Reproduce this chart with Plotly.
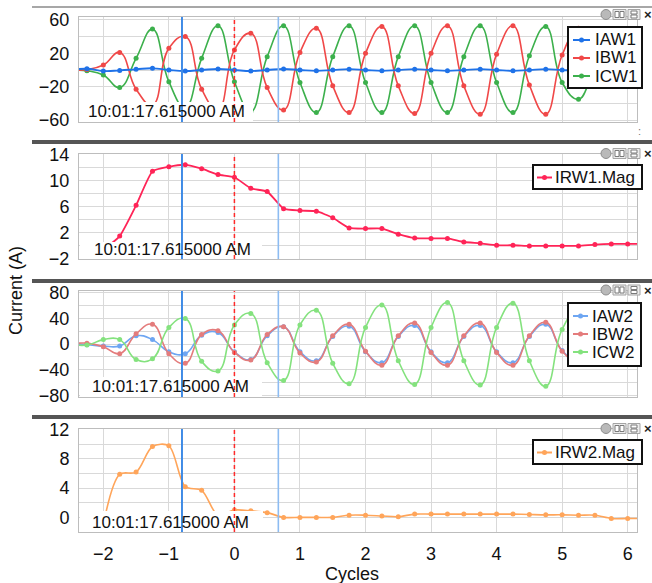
import plotly.graph_objects as go

# ---------------------------------------------------------------- data
# sample instants, in cycles relative to the trigger
CYC = [-2.5, -2.25, -2.0, -1.75, -1.5, -1.25, -1.0, -0.75, -0.5, -0.25,
       0.0, 0.25, 0.5, 0.75, 1.0, 1.25, 1.5, 1.75, 2.0, 2.25,
       2.5, 2.75, 3.0, 3.25, 3.5, 3.75, 4.0, 4.25, 4.5, 4.75,
       5.0, 5.25, 5.5, 5.75, 6.0]

# winding 1 phase currents (A)
IAW1 = [0, 1.5, -1.2, -0.5, 0.8, 2.0, 0, -1.2, 0, 1.2,
        0, -1.2, 0, 1.2, 0, -1.0, 0, 1.0, 0, -1.0,
        0, 1.0, 0, -1.0, 0, 1.0, 0, -1.0, 0, 1.0,
        0, -0.8, 0, 0, 0]
IBW1 = [0, 0.5, 6, 21, -23, -42, 26, 40, -23, -48,
        24, 44, -21, -48, 21, 50, -19, -51, 20, 52,
        -19, -52, 20, 53, -19, -53, 19, 53, -18, -53,
        18, 50, 4, 0, 0]
ICW1 = [0, -1, -6, -21, 14, 49, -14, -45, 14, 53,
        -14, -50, 16, 53, -15, -51, 16, 53, -15, -51,
        16, 53, -15, -51, 16, 53, -15, -51, 17, 52,
        -15, -35, -5, 0, 0]

# winding 2 phase currents (A)
IAW2 = [0, -1, -3, -3, 13, 7, -12, -15, 14, 18,
        -12, -24, 13, 27, -12, -26, 12, 28, -12, -29,
        12, 29, -12, -29, 12, 29, -12, -29, 12, 31,
        -10, -26, 0, 0, 0]
IBW2 = [0, 1.5, -4, -15, 16, 31, -15, -30, 15, 21,
        -13, -25, 15, 27, -14, -28, 13, 31, -11, -33,
        13, 33, -13, -33, 13, 33, -13, -33, 13, 34,
        -11, -28, 0, 0, 0]
ICW2 = [0, -1.5, 7, 7, -24, -23, 26, 40, -27, -42,
        30, 48, -29, -57, 30, 53, -30, -62, 26, 61,
        -26, -63, 26, 65, -26, -64, 26, 64, -26, -66,
        23, 55, 0, 0, 0]

# residual magnitudes
MAG_CYC = [-2.0, -1.75, -1.5, -1.25, -1.0, -0.75, -0.5, -0.25,
           0.0, 0.25, 0.5, 0.75, 1.0, 1.25, 1.5, 1.75, 2.0, 2.25,
           2.5, 2.75, 3.0, 3.25, 3.5, 3.75, 4.0, 4.25, 4.5, 4.75,
           5.0, 5.25, 5.5, 5.75, 6.0, 6.25]
IRW1_MAG = [-0.6, 1.5, 6.2, 11.4, 12.1, 12.4, 11.8, 10.9,
            10.5, 8.8, 8.3, 5.7, 5.4, 5.3, 4.3, 2.75, 2.65, 2.65,
            1.8, 1.2, 1.15, 1.15, 0.6, 0.4, 0.1, 0.1, 0.0, 0.0,
            0.0, 0.0, 0.2, 0.3, 0.3, 0.3]
IRW2_MAG = [-1.0, 5.9, 6.2, 9.7, 9.8, 4.2, 3.7, 0.3,
            1.0, 0.9, 0.65, 0.0, 0.0, 0.0, 0.0, 0.3, 0.3, 0.2,
            0.1, 0.45, 0.45, 0.45, 0.45, 0.45, 0.45, 0.45, 0.4, 0.35,
            0.35, 0.3, 0.3, -0.15, -0.15, -0.15]

# cursors (cycles)
CURSOR_A = -0.8
TRIGGER = 0.0
CURSOR_B = 0.67
TIMESTAMP = "10:01:17.615000 AM"

X_TICKS = [-2, -1, 0, 1, 2, 3, 4, 5, 6]

# ---------------------------------------------------------------- style
W, H = 652, 583
FONT = "Liberation Sans, Arial, sans-serif"
GRID = "#d9d9d9"
FRAME = "#bdbdbd"
COL = {
    "IAW1": "#1f72e8", "IBW1": "#f04848", "ICW1": "#3cb04c",
    "IRW1.Mag": "#ff2457",
    "IAW2": "#6ea6f2", "IBW2": "#e47c7c", "ICW2": "#84e27e",
    "IRW2.Mag": "#ffa55a",
}


def px(x):
    return x / W


def py(y):
    return 1 - y / H


# plot rectangles in pixels: (top, bottom)
PANELS = [(17, 122), (154, 259), (291, 397), (429, 532)]
XL, XR = 79, 637

fig = go.Figure()


def add_series(name, xs, ys, axis, width=1.6, msize=5, smooth=1.3):
    fig.add_trace(go.Scatter(
        x=xs, y=ys, name=name, mode="lines+markers",
        line=dict(color=COL[name], width=width, shape="spline", smoothing=smooth),
        marker=dict(color=COL[name], size=msize),
        xaxis="x" if axis == 1 else f"x{axis}",
        yaxis="y" if axis == 1 else f"y{axis}",
        showlegend=False, hoverinfo="x+y+name",
    ))


add_series("ICW1", CYC, ICW1, 1)
add_series("IBW1", CYC, IBW1, 1)
add_series("IAW1", CYC, IAW1, 1, width=1.9)
add_series("IRW1.Mag", MAG_CYC, IRW1_MAG, 2, width=1.8, msize=5, smooth=0.5)
add_series("IAW2", CYC, IAW2, 3)
add_series("IBW2", CYC, IBW2, 3)
add_series("ICW2", CYC, ICW2, 3)
add_series("IRW2.Mag", MAG_CYC, IRW2_MAG, 4, width=1.6, msize=5, smooth=0.9)

# ---------------------------------------------------------------- axes
Y_SPECS = [
    dict(range=[-62.3, 63.5], tick0=20, dtick=40, minor=20),
    dict(range=[-2.0, 14.05], tick0=2, dtick=4, minor=2),
    dict(range=[-82.7, 83.0], tick0=0, dtick=40, minor=20),
    dict(range=[-2.0, 12.1], tick0=0, dtick=4, minor=2),
]

layout = dict(
    width=W, height=H, margin=dict(l=0, r=0, t=0, b=0, autoexpand=False),
    paper_bgcolor="white", plot_bgcolor="white",
    font=dict(family=FONT, color="#111111", size=18),
    showlegend=False,
)

for i, ((top, bot), spec) in enumerate(zip(PANELS, Y_SPECS), start=1):
    sfx = "" if i == 1 else str(i)
    layout[f"xaxis{sfx}"] = dict(
        domain=[px(XL), px(XR)], range=[-2.371, 6.142],
        tickmode="array", tickvals=X_TICKS,
        showgrid=True, gridcolor=GRID, gridwidth=1,
        showline=True, mirror=True, linecolor=FRAME, linewidth=1,
        zeroline=False, ticks="", anchor=f"y{sfx}", automargin=False,
        showticklabels=(i == 4), tickfont=dict(size=18, color="#111111"),
        ticklabelstandoff=5,
        **({} if i == 1 else dict(matches="x")),
    )
    layout[f"yaxis{sfx}"] = dict(
        domain=[py(bot), py(top)], range=spec["range"],
        tick0=spec["tick0"], dtick=spec["dtick"],
        minor=dict(dtick=spec["minor"], showgrid=True, gridcolor=GRID),
        showgrid=True, gridcolor=GRID,
        showline=True, mirror=True, linecolor=FRAME, linewidth=1,
        zeroline=False, ticks="", anchor=f"x{sfx}", automargin=False,
        tickfont=dict(size=18, color="#111111"),
        ticklabelstandoff=5,
    )

shapes = []
annotations = []

# panel frames: thin rule above the first pane, heavy dividers between panes
shapes.append(dict(type="line", xref="paper", yref="paper",
                   x0=px(32), x1=1, y0=py(7), y1=py(7),
                   line=dict(color="#8a8a8a", width=1.5), layer="above"))
for ysep in (142, 281, 417):
    shapes.append(dict(type="line", xref="paper", yref="paper",
                       x0=px(32), x1=1, y0=py(ysep), y1=py(ysep),
                       line=dict(color="#555555", width=4), layer="above"))

# timestamp boxes (white) under the cursors
TS_BOX = [(79, 253, 102, 122, 166.5, 111.5),
          (80, 262, 242, 259, 172.5, 249.0),
          (80, 262, 377, 397, 170.5, 386.0),
          (80, 263, 511, 532, 170.5, 522.0)]
for (x0, x1, y0, y1, tx, ty) in TS_BOX:
    shapes.append(dict(type="rect", xref="paper", yref="paper",
                       x0=px(x0), x1=px(x1), y0=py(y1), y1=py(y0),
                       fillcolor="white", line=dict(width=0), layer="above"))
    annotations.append(dict(text=TIMESTAMP, xref="paper", yref="paper",
                            x=px(tx), y=py(ty), xanchor="center", yanchor="middle",
                            showarrow=False, font=dict(size=17, color="#111111")))

# cursor lines through every pane
for i in range(1, 5):
    sfx = "" if i == 1 else str(i)
    yref = f"y{sfx} domain"
    xref = f"x{sfx}"
    shapes.append(dict(type="line", xref=xref, yref=yref, x0=CURSOR_A, x1=CURSOR_A,
                       y0=0, y1=1, line=dict(color="#3f8be6", width=2), layer="above"))
    shapes.append(dict(type="line", xref=xref, yref=yref, x0=CURSOR_B, x1=CURSOR_B,
                       y0=0, y1=1, line=dict(color="#8dbcf2", width=1.6), layer="above"))
    shapes.append(dict(type="line", xref=xref, yref=yref, x0=TRIGGER, x1=TRIGGER,
                       y0=0, y1=1, line=dict(color="#ff2a2a", width=1.5, dash="4px,3px"),
                       layer="above"))

# legend boxes
LEGENDS = [
    dict(box=(568, 642, 27, 88), names=["IAW1", "IBW1", "ICW1"], rows=[40, 58, 76],
         sym=(573, 590), tx=593),
    dict(box=(533, 642, 165, 189), names=["IRW1.Mag"], rows=[177.5], sym=(537, 552), tx=553),
    dict(box=(568, 641, 303, 366), names=["IAW2", "IBW2", "ICW2"], rows=[316, 334, 352],
         sym=(573, 588), tx=590),
    dict(box=(533, 642, 440, 464), names=["IRW2.Mag"], rows=[452.5], sym=(537, 552), tx=553),
]
for lg in LEGENDS:
    x0, x1, y0, y1 = lg["box"]
    shapes.append(dict(type="rect", xref="paper", yref="paper",
                       x0=px(x0), x1=px(x1), y0=py(y1), y1=py(y0),
                       fillcolor="white", line=dict(color="#111111", width=2), layer="above"))
    s0, s1 = lg["sym"]
    for name, ry in zip(lg["names"], lg["rows"]):
        c = COL[name]
        shapes.append(dict(type="line", xref="paper", yref="paper",
                           x0=px(s0), x1=px(s1), y0=py(ry), y1=py(ry),
                           line=dict(color=c, width=2), layer="above"))
        cx = (s0 + s1) / 2
        shapes.append(dict(type="circle", xref="paper", yref="paper",
                           x0=px(cx - 2.5), x1=px(cx + 2.5), y0=py(ry + 2.5), y1=py(ry - 2.5),
                           fillcolor=c, line=dict(color=c, width=0), layer="above"))
        annotations.append(dict(text=name, xref="paper", yref="paper",
                                x=px(lg["tx"]), y=py(ry), xanchor="left", yanchor="middle",
                                showarrow=False, font=dict(size=17, color="#111111")))

# small pane toolbar (globe, side-by-side, stacked, close)
for cy in (14.5, 153.5, 290.0, 428.5):
    t, b = cy - 5, cy + 5
    shapes.append(dict(type="circle", xref="paper", yref="paper",
                       x0=px(601), x1=px(611), y0=py(b), y1=py(t),
                       fillcolor="#b9b9b9", line=dict(color="#8c8c8c", width=1), layer="above"))
    for (a, z) in ((613, 626), (628, 640)):
        shapes.append(dict(type="rect", xref="paper", yref="paper",
                           x0=px(a), x1=px(z), y0=py(b), y1=py(t),
                           fillcolor="#ececec", line=dict(color="#a4a4a4", width=1), layer="above"))
    for (a, z) in ((615, 619), (620, 624)):
        shapes.append(dict(type="rect", xref="paper", yref="paper",
                           x0=px(a), x1=px(z), y0=py(b - 2), y1=py(t + 2),
                           fillcolor="#ffffff", line=dict(color="#7a7a7a", width=1), layer="above"))
    for (a, z) in ((t + 1.5, cy - 0.5), (cy + 0.5, b - 1.5)):
        shapes.append(dict(type="rect", xref="paper", yref="paper",
                           x0=px(631), x1=px(637), y0=py(z), y1=py(a),
                           fillcolor="#ffffff", line=dict(color="#7a7a7a", width=1), layer="above"))
    annotations.append(dict(text="<b>×</b>", xref="paper", yref="paper",
                            x=px(648), y=py(cy), xanchor="center", yanchor="middle",
                            showarrow=False, font=dict(size=13, color="#222222")))

annotations.append(dict(text=":", xref="paper", yref="paper", x=px(639), y=py(131),
                        xanchor="center", yanchor="middle", showarrow=False,
                        font=dict(size=11, color="#777777")))

# axis titles
annotations.append(dict(text="Cycles", xref="paper", yref="paper", x=px(352), y=py(574),
                        xanchor="center", yanchor="middle", showarrow=False,
                        font=dict(size=18, color="#111111")))
annotations.append(dict(text="Current (A)", xref="paper", yref="paper", x=px(16), y=py(291),
                        xanchor="center", yanchor="middle", textangle=-90, showarrow=False,
                        font=dict(size=18, color="#111111")))

layout["shapes"] = shapes
layout["annotations"] = annotations
fig.update_layout(**layout)

fig.write_html("out.html")
